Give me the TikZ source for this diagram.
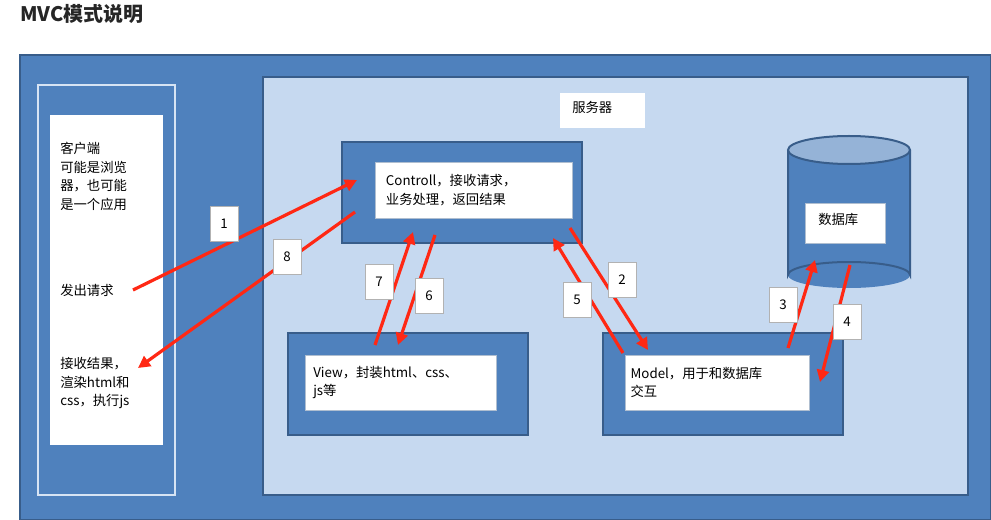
\documentclass[tikz,border=0pt]{standalone}
\usepackage{fontspec}
\setmainfont{Noto Sans CJK SC}
\usetikzlibrary{shapes.geometric,arrows.meta}
\definecolor{bl}{RGB}{79,129,189}
\definecolor{bd}{RGB}{56,93,138}
\definecolor{lb}{RGB}{198,217,240}
\definecolor{ar}{RGB}{255,40,20}
\tikzset{
 panel/.style={draw=bd,line width=2pt,fill=bl},
 wbox/.style={draw=bd!40,fill=white,anchor=north west,align=left,inner sep=0pt,font=\fontsize{10}{14}\selectfont},
 num/.style={draw=gray!60,fill=white,minimum width=21pt,minimum height=26pt,inner sep=0pt,font=\fontsize{10}{12}\selectfont},
 arr/.style={draw=ar,line width=2.4pt,-{Triangle[length=9pt,width=9pt]}},
 txt/.style={anchor=north west,align=left,inner sep=0pt,font=\fontsize{10}{14}\selectfont}
}
\begin{document}
\begin{tikzpicture}[x=0.75pt,y=-0.75pt]
\useasboundingbox (0,0) rectangle (991,520);
\fill[white] (0,0) rectangle (991,520);
\node[anchor=west,inner sep=0pt,font=\fontsize{15}{18}\selectfont\bfseries,text=black!85] (title) at (20,14) {MVC模式说明};
\draw[draw=bd,fill=bl,line width=1pt] (20,55) rectangle (991,520);
% client
\draw[draw=lb!70,line width=1.5pt,fill=bl] (38,85) rectangle (175,495);
\fill[white] (50,115) rectangle (163,445);
\node[txt] (c1) at (60,142) {客户端\\可能是浏览\\器，也可能\\是一个应用};
\node[txt] (c2) at (60,284) {发出请求};
\node[txt] (c3) at (60,357) {接收结果，\\渲染html和\\css，执行js};
% server
\draw[draw=bd,line width=2pt,fill=lb] (263,77) rectangle (968,495);
\node[wbox,draw=none,minimum width=63.75pt,minimum height=26pt,anchor=north west] (srv) at (560,93) {};
\node[txt] at (572,101) {服务器};
% controll
\draw[panel] (342,142) rectangle (582,243);
\node[wbox,text width=132pt,minimum height=42pt,inner xsep=8pt] (ctl) at (375,162) {Controll，接收请求，\\业务处理，返回结果};
% view
\draw[panel] (288,333) rectangle (528,435);
\node[wbox,text width=131pt,minimum height=41pt,inner xsep=6pt] (view) at (305,355) {View，封装html、css、\\js等};
% model
\draw[panel] (603,333) rectangle (843,435);
\node[wbox,text width=130pt,minimum height=41pt,inner xsep=4pt] (model) at (625,355) {Model，用于和数据库\\交互};
% database
\fill[bl] (788,150) rectangle (910,275);
\fill[bl] (849,275) ellipse (61 and 13);
\draw[bd,line width=1.5pt] (788,150) -- (788,275) arc[start angle=180,end angle=360,x radius=61,y radius=13] -- (910,150);
\draw[bd,line width=1.5pt,fill=bl!60] (849,150) ellipse (61 and 14);
\node[wbox,minimum width=60pt,minimum height=30pt,anchor=north west] (db) at (805,203) {};
\node[txt] at (818,213) {数据库};
% arrows
\coordinate (a1s) at (133,290); \coordinate (a1e) at (357,180);
\coordinate (a8s) at (355,212); \coordinate (a8e) at (138,368);
\coordinate (a7s) at (375,345); \coordinate (a7e) at (413,232);
\coordinate (a6s) at (435,235); \coordinate (a6e) at (398,345);
\coordinate (a5s) at (623,353); \coordinate (a5e) at (553,238);
\coordinate (a2s) at (570,228); \coordinate (a2e) at (648,350);
\coordinate (a3s) at (788,348); \coordinate (a3e) at (815,260);
\coordinate (a4s) at (850,265); \coordinate (a4e) at (820,382);
\foreach \i in {1,8,7,6,5,2,3,4} \draw[arr] (a\i s) -- (a\i e);
\node[num] (n1) at (224,224) {1};
\node[num] (n8) at (287,257) {8};
\node[num] (n7) at (379,282) {7};
\node[num] (n6) at (429,296) {6};
\node[num] (n5) at (577,300) {5};
\node[num] (n2) at (622,280) {2};
\node[num] (n3) at (783,305) {3};
\node[num] (n4) at (847,322) {4};
\end{tikzpicture}
\end{document}
